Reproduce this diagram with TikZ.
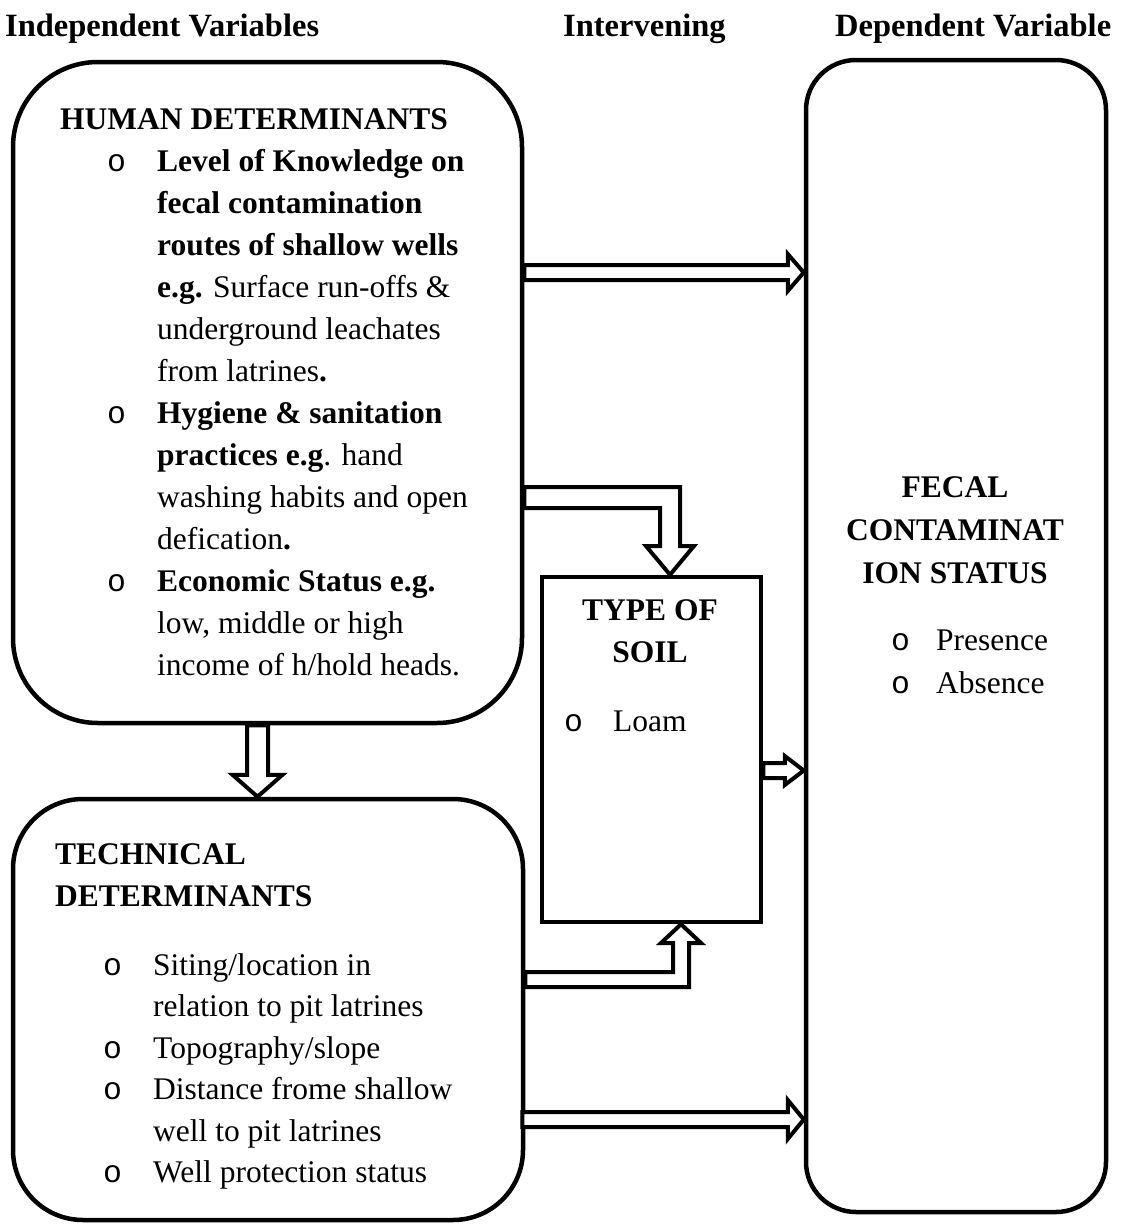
\documentclass[tikz,border=0pt]{standalone}
\usepackage{fontspec}
\setmainfont{Liberation Serif}
\newfontfamily\bulfont{Liberation Mono}
\usetikzlibrary{calc}
\newcommand\bul{\makebox[50pt][l]{\bulfont o}}
\newcommand\bulb{\makebox[45pt][l]{\bulfont o}}
\begin{document}
\begin{tikzpicture}[x=1pt,y=1pt,
 box/.style={draw, line width=4.5pt, inner sep=0pt},
 txt/.style={inner sep=0pt, anchor=base west, font=\fontsize{31.5}{42}\selectfont},
 htxt/.style={inner sep=0pt, anchor=base west, font=\fontsize{32.5}{42}\selectfont\bfseries},
 ctxt/.style={inner sep=0pt, anchor=base, font=\fontsize{31.5}{42}\selectfont},
 barrow/.style={draw, line width=4pt, fill=white, line join=miter}]
\useasboundingbox (0,0) rectangle (1121,-1226);

% headers
\node[htxt] (h1) at (5,-36) {Independent Variables};
\node[htxt] (h2) at (563,-36) {Intervening};
\node[htxt] (h3) at (835,-36) {Dependent Variable};

% boxes
\node[box, rounded corners=85pt, minimum width=509pt, minimum height=661pt] (human) at (267.5,-392.5) {};
\node[box, rounded corners=70pt, minimum width=510pt, minimum height=421pt] (tech) at (268,-1009.5) {};
\node[box, rounded corners=50pt, minimum width=300pt, minimum height=1152pt] (fecal) at (956,-636) {};
\node[box, minimum width=219pt, minimum height=345pt] (soil) at (651.5,-749.5) {};

% human text
\node[txt] (humant) at (60,-129) {\textbf{HUMAN DETERMINANTS}};
\node[txt] (humanl) at (107,-171) {\begin{tabular}[t]{@{}l@{}l@{}}
\bul & \textbf{Level of Knowledge on}\\
 & \textbf{fecal contamination}\\
 & \textbf{routes of shallow wells}\\
 & \textbf{e.g.} Surface run-offs \&\\
 & underground leachates\\
 & from latrines\textbf{.}\\
\bul & \textbf{Hygiene \& sanitation}\\
 & \textbf{practices e.g}. hand\\
 & washing habits and open\\
 & defication\textbf{.}\\
\bul & \textbf{Economic Status e.g.}\\
 & low, middle or high\\
 & income of h/hold heads.
\end{tabular}};

% technical text
\node[txt] (techt) at (55,-864) {\begin{tabular}[t]{@{}l@{}}
\textbf{TECHNICAL}\\
\textbf{DETERMINANTS}
\end{tabular}};
\node[txt, font=\fontsize{31.5}{41.5}\selectfont] (techl) at (103,-975) {\begin{tabular}[t]{@{}l@{}l@{}}
\bul & Siting/location in\\
 & relation to pit latrines\\
\bul & Topography/slope\\
\bul & Distance frome shallow\\
 & well to pit latrines\\
\bul & Well protection status
\end{tabular}};

% fecal text
\node[ctxt, font=\fontsize{31.5}{43}\selectfont] (fecalt) at (955,-497) {\begin{tabular}[t]{@{}c@{}}
\textbf{FECAL}\\
\textbf{CONTAMINAT}\\
\textbf{ION STATUS}
\end{tabular}};
\node[txt, font=\fontsize{31.5}{43}\selectfont] (fecall) at (891,-650) {\begin{tabular}[t]{@{}l@{}l@{}}
\bulb & Presence\\
\bulb & Absence
\end{tabular}};

% soil text
\node[ctxt] (soilt) at (650,-620) {\begin{tabular}[t]{@{}c@{}}
\textbf{TYPE OF}\\
\textbf{SOIL}
\end{tabular}};
\node[txt] (soill) at (564,-731) {\makebox[49pt][l]{\bulfont o}Loam};

% arrows
\draw[barrow] let \p1=(human.east), \p2=(fecal.west) in
 (\x1,-265) -- (\x2-16pt,-265) -- (\x2-16pt,-254) -- (\x2,-272.5) -- (\x2-16pt,-291) -- (\x2-16pt,-280) -- (\x1,-280) -- cycle;
\draw[barrow] let \p1=(tech.east), \p2=(fecal.west) in
 (\x1-3pt,-1112) -- (\x2-16pt,-1112) -- (\x2-16pt,-1100) -- (\x2,-1119.5) -- (\x2-16pt,-1139) -- (\x2-16pt,-1127) -- (\x1-3pt,-1127) -- cycle;
\draw[barrow] let \p1=(soil.east), \p2=(fecal.west) in
 (\x1,-763) -- (\x2-19pt,-763) -- (\x2-19pt,-756) -- (\x2,-770.5) -- (\x2-19pt,-785) -- (\x2-19pt,-778) -- (\x1,-778) -- cycle;
\draw[barrow] let \p1=(human.south), \p2=(tech.north) in
 (247,\y1) -- (247,\y2+22pt) -- (232.5,\y2+22pt) -- (257.5,\y2) -- (282.5,\y2+22pt) -- (268,\y2+22pt) -- (268,\y1) -- cycle;
\draw[barrow] let \p1=(human.east), \p2=(soil.north) in
 (\x1,-487) -- (680,-487) -- (680,-546) -- (694,-546) -- (670,\y2) -- (646,-546) -- (660,-546) -- (660,-508) -- (\x1,-508) -- cycle;
\draw[barrow] let \p1=(tech.east), \p2=(soil.south) in
 (\x1,-987) -- (689,-987) -- (689,-943) -- (701,-943) -- (681,\y2) -- (661,-943) -- (673,-943) -- (673,-972) -- (\x1,-972) -- cycle;
\end{tikzpicture}
\end{document}
